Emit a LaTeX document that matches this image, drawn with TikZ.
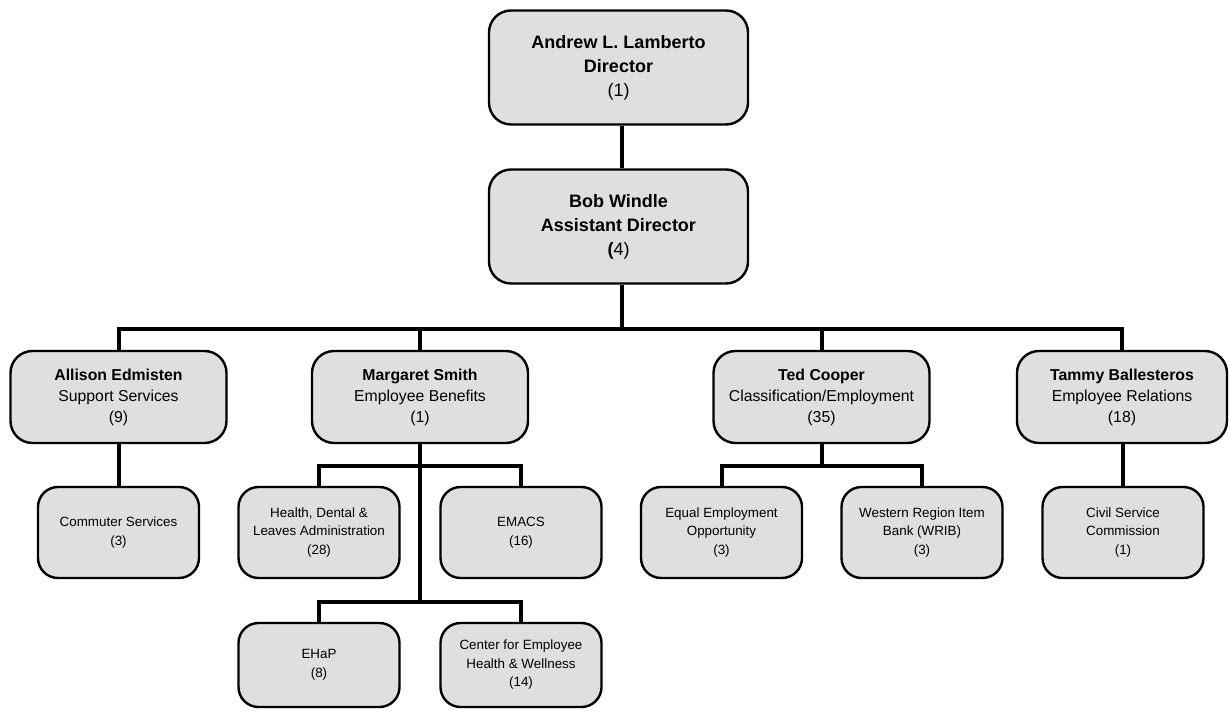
\documentclass[tikz,border=0pt]{standalone}
\usepackage{fontspec}
\setmainfont{Liberation Sans}
\usetikzlibrary{backgrounds}
\definecolor{boxgray}{RGB}{223,223,223}
\begin{document}
\begin{tikzpicture}[x=1pt,y=-1pt,
  box/.style={draw=black, line width=2.4pt, fill=boxgray, rounded corners=22pt, align=center, inner sep=0pt},
  topbox/.style={box, minimum width=259pt, minimum height=114pt, font=\fontsize{18}{24}\selectfont},
  midbox/.style={box, minimum width=216pt, minimum height=92pt, font=\fontsize{15.8}{21}\selectfont},
  kidbox/.style={box, rounded corners=20pt, minimum width=161pt, font=\fontsize{13.4}{18.5}\selectfont},
  link/.style={draw=black, line width=4pt, line join=miter}]
\useasboundingbox (0,0) rectangle (1229,711);

% top
\node[topbox] (dir) at (618.5,67.5) {\textbf{Andrew L. Lamberto}\\\textbf{Director}\\(1)};
\node[topbox] (bob) at (618.5,226.5) {\textbf{Bob Windle}\\\textbf{Assistant Director}\\\textbf{(}4)};

% middle row
\node[midbox] (allison) at (118.5,397) {\textbf{Allison Edmisten}\\Support Services\\(9)};
\node[midbox] (margaret) at (420,397) {\textbf{Margaret Smith}\\Employee Benefits\\(1)};
\node[midbox] (ted) at (821.5,397) {\textbf{Ted Cooper}\\Classification/Employment\\(35)};
\node[midbox, minimum width=210pt] (tammy) at (1122,397) {\textbf{Tammy Ballesteros}\\Employee Relations\\(18)};

% children row 1
\node[kidbox, minimum height=91pt] (commuter) at (118.5,532.5) {Commuter Services\\(3)};
\node[kidbox, minimum height=91pt] (health) at (319,532.5) {Health, Dental \&\\Leaves Administration\\(28)};
\node[kidbox, minimum height=91pt] (emacs) at (521,532.5) {EMACS\\(16)};
\node[kidbox, minimum height=91pt] (equal) at (721.5,532.5) {Equal Employment\\Opportunity\\(3)};
\node[kidbox, minimum height=91pt] (western) at (922,532.5) {Western Region Item\\Bank (WRIB)\\(3)};
\node[kidbox, minimum height=91pt] (civil) at (1123,532.5) {Civil Service\\Commission\\(1)};

% children row 2
\node[kidbox, minimum height=84pt] (ehap) at (319,665) {EHaP\\(8)};
\node[kidbox, minimum height=84pt] (cewell) at (521,665) {Center for Employee\\Health \& Wellness\\(14)};

\coordinate (hub) at (622,329);
\coordinate (mb1) at (420,466);
\coordinate (mb2) at (420,602);
\coordinate (tb) at (821.5,466);

\begin{pgfonlayer}{background}
\draw[link] (dir.south -| hub) -- (bob.north -| hub);
\draw[link] (bob.south -| hub) -- (hub);
\draw[link] (allison.north) |- (hub) -| (tammy.north);
\draw[link] (margaret.north) -- (margaret.north |- hub);
\draw[link] (ted.north) -- (ted.north |- hub);
\draw[link] (allison.south) -- (commuter.north);
\draw[link] (margaret.south) -- (mb2);
\draw[link] (health.north) |- (mb1) -| (emacs.north);
\draw[link] (ehap.north) |- (mb2) -| (cewell.north);
\draw[link] (ted.south) -- (tb);
\draw[link] (equal.north) |- (tb) -| (western.north);
\draw[link] (tammy.south) -- (civil.north |- tammy.south) -- (civil.north);
\end{pgfonlayer}
\end{tikzpicture}
\end{document}
